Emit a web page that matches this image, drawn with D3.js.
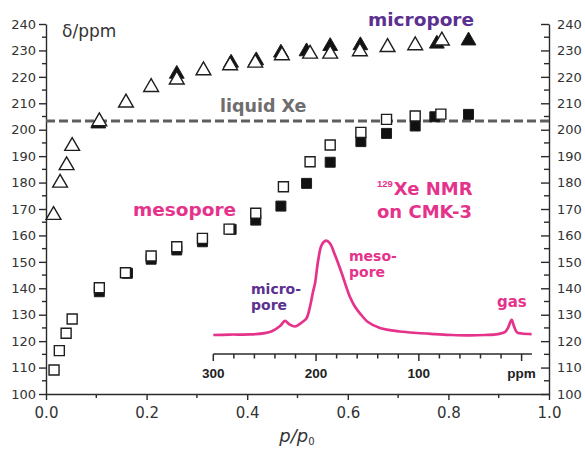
<!DOCTYPE html>
<html>
<head>
<meta charset="utf-8">
<script src="https://cdn.jsdelivr.net/npm/d3@7"></script>
<style>
  html, body { margin: 0; padding: 0; background: #fff; }
  svg { display: block; }
  text { font-family: "DejaVu Sans", sans-serif; }
</style>
</head>
<body>
<svg id="chart" width="585" height="451"></svg>
<script>
// 129Xe chemical shift versus relative pressure on CMK-3

// micropore signal (triangles)
const microOpenP   = [0.015, 0.028, 0.041, 0.052, 0.106, 0.159, 0.209, 0.260, 0.313, 0.366, 0.416, 0.469, 0.525, 0.565, 0.624, 0.679, 0.734, 0.787];
const microOpenD   = [167.7, 179.9, 186.5, 193.8, 203.1, 210.2, 216.1, 218.9, 222.4, 224.3, 225.3, 228.1, 228.7, 228.7, 229.6, 231.2, 231.9, 233.7];
const microFilledP = [0.104, 0.260, 0.368, 0.418, 0.467, 0.518, 0.565, 0.625, 0.777, 0.840];
const microFilledD = [202.3, 221.1, 225.3, 226.2, 229.1, 229.6, 231.6, 231.9, 232.5, 233.7];

// mesopore signal (squares)
const mesoOpenP   = [0.016, 0.0265, 0.040, 0.052, 0.106, 0.158, 0.209, 0.260, 0.311, 0.364, 0.417, 0.472, 0.525, 0.565, 0.626, 0.677, 0.734, 0.785];
const mesoOpenD   = [109.1, 116.4, 123.0, 128.4, 140.2, 145.9, 152.2, 155.7, 158.9, 162.4, 168.4, 178.4, 187.9, 194.2, 199.0, 203.9, 205.2, 205.9];
const mesoFilledP = [0.106, 0.162, 0.209, 0.260, 0.311, 0.368, 0.417, 0.467, 0.518, 0.565, 0.626, 0.677, 0.734, 0.773, 0.840];
const mesoFilledD = [138.7, 145.7, 151.0, 154.5, 157.6, 162.3, 165.8, 171.1, 179.7, 187.7, 195.5, 198.6, 201.4, 204.9, 205.8];

// bulk liquid xenon shift
const liquidXe = 203.3;

// axis ticks
const xTicks = [0.0, 0.2, 0.4, 0.6, 0.8, 1.0];
const yTicks = d3.range(100, 241, 10);

// inset spectrum: chemical shift (ppm) and normalised intensity
const specPpm = [300, 284, 264, 250, 243, 235, 230.2, 226.4, 220.5, 215.7, 211.8, 209.1, 205.9, 203, 201, 197.9, 194.6, 190.4, 186.5, 181.6, 175.1, 170.9, 167, 162.1, 157.3, 149.5, 137.8, 118.4, 100.9, 84.3, 67.8, 50.3, 35.7, 23.1, 16.3, 13.3, 9.7, 7.5, 4.6, -0.3, -9.7];
const specInt = [0, 0.005, 0.006, 0.02, 0.04, 0.095, 0.15, 0.117, 0.09, 0.117, 0.15, 0.18, 0.30, 0.456, 0.55, 0.795, 0.954, 1.0, 0.972, 0.848, 0.657, 0.52, 0.403, 0.30, 0.23, 0.138, 0.074, 0.037, 0.021, 0.01, 0.0, -0.005, 0.0, 0.01, 0.03, 0.074, 0.16, 0.095, 0.03, 0.016, 0.01];
const insetTicks = d3.range(300, -1, -20);
const insetLabels = {300: "300", 200: "200", 100: "100", 0: "ppm"};

const pink = "#e5338c";
const purple = "#5b3090";
const ink = "#2b2b2b";

const svg = d3.select("#chart");
svg.append("rect").attr("width", 585).attr("height", 451).attr("fill", "#fff");

const x = d3.scaleLinear().domain([0, 1]).range([46, 549]);
const y = d3.scaleLinear().domain([100, 240]).range([394, 24]);

function styleAxis(g) {
  g.selectAll("path, line").attr("stroke", ink).attr("stroke-width", 1.4);
  g.selectAll("text").attr("fill", "#333").style("font-family", "DejaVu Sans, sans-serif");
}

// left axis with outward ticks
const gl = svg.append("g").attr("transform", `translate(${x(0)},0)`)
  .call(d3.axisLeft(y).tickValues(yTicks).tickSize(7).tickSizeOuter(0).tickPadding(3));
gl.selectAll("text").style("font-size", "13px");
gl.selectAll(".minor").data(d3.range(105, 240, 10)).enter().append("line")
  .attr("x1", -4).attr("x2", 0).attr("y1", d => y(d)).attr("y2", d => y(d));
styleAxis(gl);

// right axis with inward ticks
const gr = svg.append("g").attr("transform", `translate(${x(1)},0)`)
  .call(d3.axisRight(y).tickValues(yTicks).tickSize(-8).tickSizeOuter(0).tickPadding(8));
gr.selectAll("text").style("font-size", "13px");
gr.selectAll(".minor").data(d3.range(105, 240, 10)).enter().append("line")
  .attr("x1", -5).attr("x2", 0).attr("y1", d => y(d)).attr("y2", d => y(d));
styleAxis(gr);

// bottom axis
const gb = svg.append("g").attr("transform", `translate(0,${y(100)})`)
  .call(d3.axisBottom(x).tickValues(xTicks).tickFormat(d3.format(".1f")).tickSize(6).tickSizeOuter(0).tickPadding(7));
gb.selectAll("text").style("font-size", "15px");
gb.selectAll(".minor").data(d3.range(0.1, 1, 0.2)).enter().append("line")
  .attr("y1", 0).attr("y2", 4).attr("x1", d => x(d)).attr("x2", d => x(d));
styleAxis(gb);

// axis title p/p0
const xt = svg.append("text").attr("x", 297).attr("y", 442).attr("text-anchor", "middle")
  .attr("fill", "#333").style("font-size", "18px").style("font-style", "italic");
xt.append("tspan").text("p/p");
xt.append("tspan").attr("dy", 3).style("font-size", "10px").style("font-style", "normal").text("0");

svg.append("text").attr("x", 62).attr("y", 37).attr("fill", "#333").style("font-size", "17px").text("δ/ppm");

// liquid Xe reference line
svg.append("line").attr("x1", x(0)).attr("x2", x(1)).attr("y1", y(liquidXe)).attr("y2", y(liquidXe))
  .attr("stroke", "#5e5e5e").attr("stroke-width", 3).attr("stroke-dasharray", "9,4");
svg.append("text").attr("x", 220).attr("y", 112).attr("fill", "#6e6e6e")
  .style("font-size", "17.5px").style("font-weight", "bold").text("liquid Xe");

// markers
const tri = d3.symbol().type(d3.symbolTriangle).size(95);
const sq = d3.symbol().type(d3.symbolSquare).size(100);

function drawSeries(ps, ds, gen, filled) {
  svg.append("g").selectAll("path").data(ps.map((p, i) => [p, ds[i]])).enter().append("path")
    .attr("d", gen)
    .attr("transform", d => `translate(${x(d[0])},${y(d[1])})`)
    .attr("fill", filled ? "#111" : "#fff")
    .attr("stroke", "#1e1e1e")
    .attr("stroke-width", filled ? 1 : 1.4);
}
drawSeries(mesoFilledP, mesoFilledD, sq, true);
drawSeries(mesoOpenP, mesoOpenD, sq, false);
drawSeries(microFilledP, microFilledD, tri, true);
drawSeries(microOpenP, microOpenD, tri, false);

// labels
svg.append("text").attr("x", 368).attr("y", 26).attr("fill", purple)
  .style("font-size", "18.5px").style("font-weight", "bold").text("micropore");
svg.append("text").attr("x", 133).attr("y", 216).attr("fill", pink)
  .style("font-size", "18.5px").style("font-weight", "bold").text("mesopore");

const t1 = svg.append("text").attr("x", 377).attr("y", 195).attr("fill", pink).style("font-weight", "bold");
t1.append("tspan").style("font-size", "9.5px").style("font-family", "Liberation Sans, Arial, sans-serif").attr("dy", -8).text("129");
t1.append("tspan").style("font-size", "18px").attr("dy", 8).attr("dx", 1).text("Xe NMR");
svg.append("text").attr("x", 377).attr("y", 218).attr("fill", pink)
  .style("font-size", "18px").style("font-weight", "bold").text("on CMK-3");

// inset spectrum
const xi = d3.scaleLinear().domain([300, 0]).range([213.3, 521.6]);
const yi = d3.scaleLinear().domain([0, 1]).range([335, 240.7]);
const axisY = 354;

const gi = svg.append("g");
gi.append("line").attr("x1", xi(300)).attr("x2", xi(-10)).attr("y1", axisY).attr("y2", axisY)
  .attr("stroke", ink).attr("stroke-width", 1.5);
gi.selectAll(".it").data(insetTicks).enter().append("line")
  .attr("x1", d => xi(d)).attr("x2", d => xi(d))
  .attr("y1", axisY).attr("y2", d => axisY + (d % 100 === 0 ? 7 : 4.5))
  .attr("stroke", ink).attr("stroke-width", 1.5);
gi.selectAll(".il").data(Object.keys(insetLabels).map(Number)).enter().append("text")
  .attr("x", d => xi(d)).attr("y", 378).attr("text-anchor", "middle")
  .attr("fill", "#222").style("font-family", "Liberation Sans, Arial, sans-serif")
  .style("font-size", "13.5px").style("font-weight", "bold")
  .text(d => insetLabels[d]);

const line = d3.line().x(d => xi(d[0])).y(d => yi(d[1])).curve(d3.curveCatmullRom);
gi.append("path").datum(specPpm.map((p, i) => [p, specInt[i]]))
  .attr("d", line).attr("fill", "none").attr("stroke", pink).attr("stroke-width", 2.7)
  .attr("stroke-linejoin", "round");

function twoLine(xp, y1, y2, a, b, color) {
  svg.append("text").attr("x", xp).attr("y", y1).attr("fill", color)
    .style("font-size", "14px").style("font-weight", "bold").text(a);
  svg.append("text").attr("x", xp).attr("y", y2).attr("fill", color)
    .style("font-size", "14px").style("font-weight", "bold").text(b);
}
twoLine(251, 294, 310, "micro-", "pore", purple);
twoLine(349, 261, 277, "meso-", "pore", pink);
svg.append("text").attr("x", 497).attr("y", 307).attr("fill", pink)
  .style("font-size", "15px").style("font-weight", "bold").text("gas");
</script>
</body>
</html>
